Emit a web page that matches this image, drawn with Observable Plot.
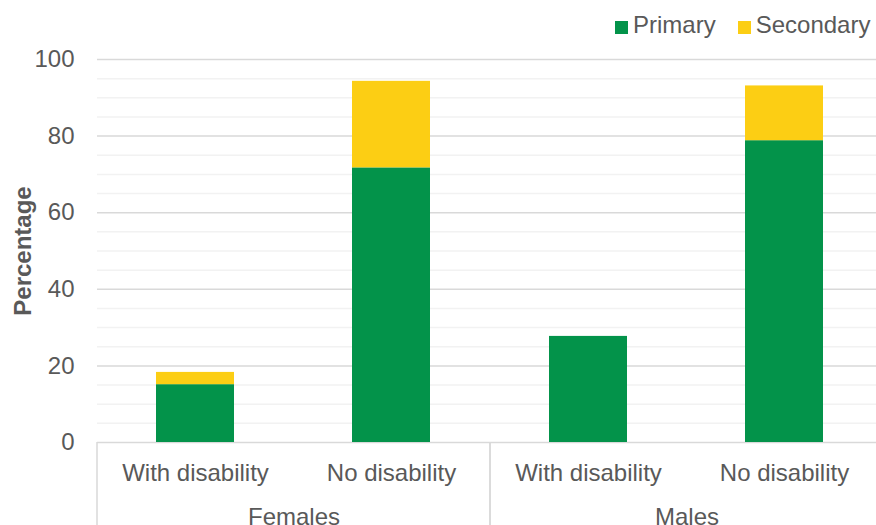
<!DOCTYPE html>
<html>
<head>
<meta charset="utf-8">
<script src="https://cdn.jsdelivr.net/npm/d3@7"></script>
<script src="https://cdn.jsdelivr.net/npm/@observablehq/plot@0.6"></script>
<style>
  body { margin: 0; background: #fff; font-family: "Liberation Sans", Arial, sans-serif; }
  #chart { position: relative; width: 876px; height: 525px; overflow: hidden; }
  .legend { position: absolute; left: 615px; top: 13px; display: flex; align-items: center;
            font-size: 24px; line-height: 24px; color: #595959; white-space: nowrap; }
  .legend .item { display: flex; align-items: center; margin-right: 22px; }
  .legend .item:last-child { margin-right: 0; }
  .legend .sw { width: 13px; height: 13px; display: inline-block; margin-right: 5px; position: relative; top: 2px; }
  [aria-label="y-axis label"] text { font-weight: bold; }
</style>
</head>
<body>
<div id="chart"></div>
<script>
// Groups, categories and series
const groups = ["Females", "Males"];
const disability = ["With disability", "No disability"];
const levels = ["Primary", "Secondary"];
const levelColors = ["#03934A", "#FCCE14"];

// Percentages, in order: Females/With, Females/No, Males/With, Males/No
const primary = [15.1, 71.7, 27.7, 78.8];
const secondary = [3.2, 22.6, 0, 14.3];

// Axis ticks and gridlines
const yTicks = [0, 20, 40, 60, 80, 100];
const yMinor = [5, 10, 15, 25, 30, 35, 45, 50, 55, 65, 70, 75, 85, 90, 95];

// Long table for stacking: Primary rows first so they sit at the bottom
const rows = [];
for (const level of levels) {
  const vals = level === "Primary" ? primary : secondary;
  groups.forEach((g, gi) => disability.forEach((d, di) => {
    rows.push({group: g, disability: d, level, value: vals[gi * disability.length + di]});
  }));
}

// Vertical box lines separating the category groups under the axis
function categoryDividers(index, scales, values, dimensions) {
  const [x0, x1] = scales.x.range();
  const g = d3.create("svg:g").attr("aria-label", "category dividers");
  for (const xv of [x0, x1]) {
    g.append("line")
      .attr("x1", xv).attr("x2", xv)
      .attr("y1", scales.y(0)).attr("y2", dimensions.height)
      .attr("stroke", "#D9D9D9").attr("stroke-width", 1.5);
  }
  return g.node();
}

const chart = Plot.plot({
  width: 876,
  height: 525,
  marginTop: 59,
  marginBottom: 83,
  marginLeft: 97,
  marginRight: 0,
  style: {fontFamily: "Liberation Sans, Arial, sans-serif", fontSize: "24px", color: "#595959", background: "transparent"},
  fx: {domain: groups, range: [97, 883], padding: 0, axis: null, label: null},
  x: {domain: disability, paddingInner: 0.6, paddingOuter: 0.3, axis: null, label: null},
  y: {domain: [0, 100], axis: null},
  color: {domain: levels, range: levelColors},
  marks: [
    Plot.ruleY(yMinor, {stroke: "#F2F2F2", strokeWidth: 1.5}),
    Plot.ruleY(yTicks, {stroke: "#D9D9D9", strokeWidth: 1.5}),
    Plot.barY(rows, {fx: "group", x: "disability", y: "value", fill: "level"}),
    Plot.axisY({ticks: yTicks, tickSize: 0, tickPadding: 23, fontSize: 24, fill: "#595959",
                label: "Percentage", labelArrow: "none", labelAnchor: "center", labelOffset: 84}),
    Plot.axisX({tickSize: 0, tickPadding: 21, fontSize: 24, fill: "#595959", label: null}),
    Plot.axisFx({anchor: "bottom", tickSize: 0, tickPadding: 65, fontSize: 24, fill: "#595959", label: null}),
    categoryDividers
  ]
});

const root = document.getElementById("chart");
root.appendChild(chart);

// Legend
const legend = document.createElement("div");
legend.className = "legend";
levels.forEach((name, i) => {
  const item = document.createElement("span");
  item.className = "item";
  const sw = document.createElement("span");
  sw.className = "sw";
  sw.style.background = levelColors[i];
  item.appendChild(sw);
  item.appendChild(document.createTextNode(name));
  legend.appendChild(item);
});
root.appendChild(legend);
</script>
</body>
</html>
